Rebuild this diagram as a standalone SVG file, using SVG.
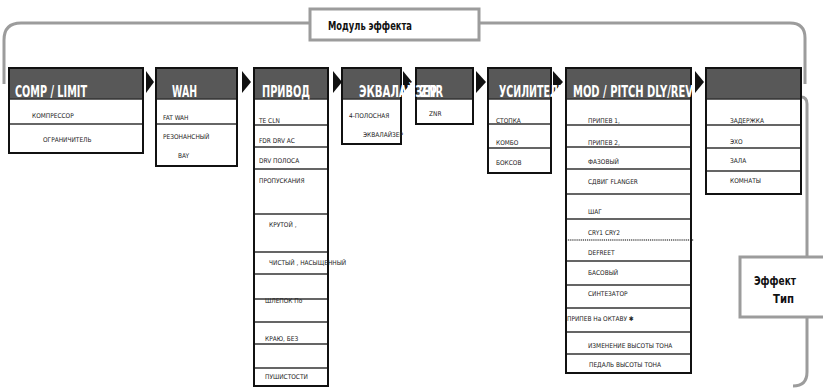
<svg xmlns="http://www.w3.org/2000/svg" width="823" height="388" viewBox="0 0 823 388">
<style>
.bg{fill:#fff}
.frame{fill:none;stroke:#111;stroke-width:2}
.fill{fill:#fff}
.hdr{fill:#585858}
.dv{stroke:#333;stroke-width:1.4}
.dot{stroke:#555;stroke-width:1.4;stroke-dasharray:1.2 0.9}
.gray{fill:none;stroke:#9c9c9c;stroke-width:3}
.gbox{fill:#fff;stroke:#9c9c9c;stroke-width:3}
.arr{fill:#111}
.h{font-family:'Liberation Sans Narrow','DejaVu Sans Condensed','Roboto Condensed','Liberation Sans',sans-serif;font-stretch:condensed;font-size:16px;font-weight:bold;fill:#fff}
.l{font-family:'Liberation Sans Narrow','DejaVu Sans Condensed','Roboto Condensed','Liberation Sans',sans-serif;font-stretch:condensed;font-size:6.5px;fill:#222}
.t{font-family:'Liberation Sans Narrow','DejaVu Sans Condensed','Roboto Condensed','Liberation Sans',sans-serif;font-stretch:condensed;font-size:13px;font-weight:bold;fill:#111}
</style>
<rect class="bg" x="0" y="0" width="823" height="388"/>
<g id="connectors">
<path class="gray" d="M4 84 V40 Q4 23 21 23 H311"/>
<path class="gray" d="M479 23 H790 Q805 23 805 38 V84"/>
<path class="gray" d="M801 97 Q807 97 807 104 V372 Q807 386 793 386"/>
<polygon class="arr" points="146,71 154,82 146,93"/>
<polygon class="arr" points="242,71 251,82 242,93"/>
<polygon class="arr" points="333,71 342,82 333,93"/>
<polygon class="arr" points="403,71 412,82 403,93"/>
<polygon class="arr" points="476,71 486,82 476,93"/>
<polygon class="arr" points="553,71 563,82 553,93"/>
<polygon class="arr" points="695,71 704,82 695,93"/>
</g>
<g id="module-label">
<rect class="gbox" x="310" y="9" width="169" height="31"/>
<text class="t" x="328" y="30" textLength="84" lengthAdjust="spacingAndGlyphs">Модуль эффекта</text>
</g>
<g id="effect-type">
<rect class="gbox" x="740" y="257" width="90" height="60"/>
<text class="t" x="754" y="285" textLength="42" lengthAdjust="spacingAndGlyphs">Эффект</text>
<text class="t" x="773" y="303" textLength="21" lengthAdjust="spacingAndGlyphs">Тип</text>
</g>
<g id="comp-limit">
<rect class="fill" x="9" y="68" width="134" height="85"/>
<rect class="hdr" x="9" y="68" width="134" height="31"/>
<line class="dv" x1="9" y1="99" x2="143" y2="99"/>
<line class="dv" x1="9" y1="124" x2="143" y2="124"/>
<rect class="frame" x="9" y="68" width="134" height="85"/>
<text class="l" x="32" y="117.5">КОМПРЕССОР</text>
<text class="l" x="43" y="141.5">ОГРАНИЧИТЕЛЬ</text>
</g>
<g id="wah">
<rect class="fill" x="156" y="68" width="81" height="98"/>
<rect class="hdr" x="156" y="68" width="81" height="31"/>
<line class="dv" x1="156" y1="99" x2="237" y2="99"/>
<line class="dv" x1="156" y1="124" x2="237" y2="124"/>
<rect class="frame" x="156" y="68" width="81" height="98"/>
<text class="l" x="163" y="119.5">FAT WAH</text>
<text class="l" x="163" y="138.5">РЕЗОНАНСНЫЙ</text>
<text class="l" x="178" y="157.5">BAY</text>
</g>
<g id="drive">
<rect class="fill" x="254" y="68" width="74" height="318"/>
<rect class="hdr" x="254" y="68" width="74" height="31"/>
<path class="dv" d="M254 99H328M254 125H328M254 147H328M254 169H328M254 214H328M254 252H328M254 274H328M254 299H328M254 322H328M254 344H328M254 368H328"/>
<rect class="frame" x="254" y="68" width="74" height="318"/>
<text class="l" x="259" y="122.5">TE CLN</text>
<text class="l" x="259" y="142.5">FDR DRV AC</text>
<text class="l" x="259" y="162.5">DRV ПОЛОСА</text>
<text class="l" x="259" y="182.5">ПРОПУСКАНИЯ</text>
<text class="l" x="269" y="226.5">КРУТОЙ ,</text>
<text class="l" x="269" y="264.5">ЧИСТЫЙ , НАСЫЩЕННЫЙ</text>
<text class="l" x="265" y="302.5">ШЛЕПОК По</text>
<text class="l" x="265" y="340.5">КРАЮ, БЕЗ</text>
<text class="l" x="265" y="378.5">ПУШИСТОСТИ</text>
</g>
<g id="eq">
<rect class="fill" x="342" y="68" width="59" height="76"/>
<rect class="hdr" x="342" y="68" width="59" height="31"/>
<line class="dv" x1="342" y1="99" x2="401" y2="99"/>
<rect class="frame" x="342" y="68" width="59" height="76"/>
<text class="l" x="349" y="117.5">4-ПОЛОСНАЯ</text>
<text class="l" x="363" y="136.5">ЭКВАЛАЙЗЕР</text>
</g>
<g id="znr">
<rect class="fill" x="416" y="68" width="57" height="56"/>
<rect class="hdr" x="416" y="68" width="57" height="31"/>
<line class="dv" x1="416" y1="99" x2="473" y2="99"/>
<rect class="frame" x="416" y="68" width="57" height="56"/>
<text class="l" x="429" y="115.5">ZNR</text>
</g>
<g id="amp">
<rect class="fill" x="488" y="68" width="63" height="105"/>
<rect class="hdr" x="488" y="68" width="63" height="31"/>
<path class="dv" d="M488 99H551M488 124H551M488 148H551"/>
<rect class="frame" x="488" y="68" width="63" height="105"/>
<text class="l" x="496" y="122.5">СТОПКА</text>
<text class="l" x="496" y="144.5">КОМБО</text>
<text class="l" x="496" y="164.5">БОКСОВ</text>
</g>
<g id="mod">
<rect class="fill" x="566" y="68" width="125" height="305"/>
<rect class="hdr" x="566" y="68" width="125" height="31"/>
<path class="dv" d="M566 99H691M566 125H691M566 147H691M566 169H691M566 194H691M566 219H691M566 261H691M566 285H691M566 308H691M566 332H691M566 354H691"/>
<line class="dot" x1="566" y1="240" x2="694" y2="240"/>
<rect class="frame" x="566" y="68" width="125" height="305"/>
<text class="l" x="588" y="122.5">ПРИПЕВ 1,</text>
<text class="l" x="588" y="144.5">ПРИПЕВ 2,</text>
<text class="l" x="588" y="163.5">ФАЗОВЫЙ</text>
<text class="l" x="588" y="183.5">СДВИГ FLANGER</text>
<text class="l" x="588" y="214">ШАГ</text>
<text class="l" x="588" y="234.5">CRY1 CRY2</text>
<text class="l" x="588" y="254.5">DEFREET</text>
<text class="l" x="588" y="274.5">БАСОВЫЙ</text>
<text class="l" x="588" y="295.5">СИНТЕЗАТОР</text>
<text class="l" x="567" y="320.5">ПРИПЕВ На ОКТАВУ ✱</text>
<text class="l" x="588" y="347.5">ИЗМЕНЕНИЕ ВЫСОТЫ ТОНА</text>
<text class="l" x="589" y="366.5">ПЕДАЛЬ ВЫСОТЫ ТОНА</text>
</g>
<g id="dly-rev">
<rect class="fill" x="706" y="68" width="95" height="126"/>
<rect class="hdr" x="706" y="68" width="95" height="31"/>
<path class="dv" d="M706 99H801M706 125H801M706 148H801M706 171H801"/>
<rect class="frame" x="706" y="68" width="95" height="126"/>
<text class="l" x="730" y="122.5">ЗАДЕРЖКА</text>
<text class="l" x="730" y="143.5">ЭХО</text>
<text class="l" x="730" y="162.5">ЗАЛА</text>
<text class="l" x="730" y="182.5">КОМНАТЫ</text>
</g>
<g id="headers">
<text class="h" x="15" y="97" textLength="72" lengthAdjust="spacingAndGlyphs">COMP / LIMIT</text>
<text class="h" x="172" y="97" textLength="25" lengthAdjust="spacingAndGlyphs">WAH</text>
<text class="h" x="262" y="97" textLength="48" lengthAdjust="spacingAndGlyphs">ПРИВОД</text>
<text class="h" x="359" y="97" textLength="78" lengthAdjust="spacingAndGlyphs">ЭКВАЛАЙЗЕР</text>
<text class="h" x="420" y="97" textLength="23" lengthAdjust="spacingAndGlyphs">ZNR</text>
<text class="h" x="499" y="97" textLength="66" lengthAdjust="spacingAndGlyphs">УСИЛИТЕЛЬ</text>
<text class="h" x="573" y="97" textLength="120" lengthAdjust="spacingAndGlyphs">MOD / PITCH DLY/REV</text>
</g>
</svg>
